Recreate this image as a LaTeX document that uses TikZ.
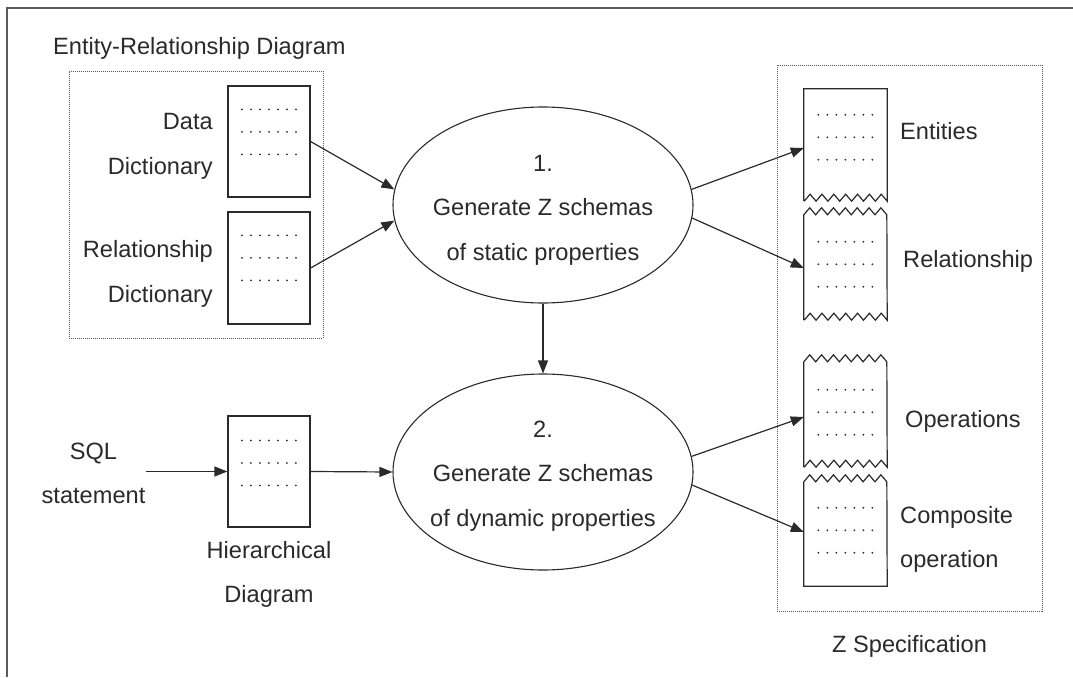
\documentclass[tikz,border=0pt]{standalone}
\usepackage{fontspec}
\setmainfont{Liberation Sans}
\usetikzlibrary{shapes.geometric,arrows.meta}
\definecolor{ink}{HTML}{2A2A2A}
\definecolor{rule}{HTML}{5A5A5A}

% three rows of seven dots inside a sheet, #2 = offset of the first row from the top
\newcommand\sheetdots[2]{%
  \foreach \r in {0,22.5,45}
    \foreach \c in {0,...,6}
      \fill[ink] ([shift={(14.5+9*\c,#2+\r)}]#1.north west) circle (1pt);}

\begin{document}
\begin{tikzpicture}[x=1pt,y=-1pt,
  lbl/.style={font=\fontsize{23.6}{44.5}\selectfont, text=ink, inner sep=0pt},
  sheet/.style={draw=ink, line width=1.2pt, minimum width=82pt, minimum height=111pt, inner sep=0pt},
  blank/.style={minimum width=83pt, inner sep=0pt},
  proc/.style={ellipse, draw=ink, line width=1.1pt, minimum width=300pt, minimum height=196pt, inner sep=0pt},
  flow/.style={draw=ink, line width=1.2pt, -{Triangle[length=13pt,width=10pt]}},
  group/.style={draw=rule, line width=0.9pt, dash pattern=on 1pt off 1pt, inner sep=0pt},
  outline/.style={draw=ink, line width=1.2pt, line join=miter}]

\useasboundingbox (0,0) rectangle (1073,677);

% page frame
\draw[rule, line width=1.4pt] (7,677) -- (7,8) -- (1073,8);

% ---------- entity-relationship group ----------
\node[group, minimum width=254pt, minimum height=267pt] (er) at (196,204.5) {};
\node[lbl, anchor=base west] (ertitle) at (53,55) {Entity-Relationship Diagram};

\node[sheet] (dd) at (269,141.5) {};
\node[sheet, minimum height=112pt] (rd) at (269,268) {};
\sheetdots{dd}{24}
\sheetdots{rd}{24}
\node[lbl, align=right, anchor=east] (ddl) at (213,146.5) {Data\\Dictionary};
\node[lbl, align=right, anchor=east] (rdl) at (213,274) {Relationship\\Dictionary};

% ---------- SQL input and hierarchical diagram ----------
\node[lbl, align=center] (sql) at (93.5,473.5) {SQL\\statement};
\node[sheet] (hd) at (269,471.5) {};
\sheetdots{hd}{25}
\node[lbl, align=center] (hdl) at (269,574.5) {Hierarchical\\Diagram};

% ---------- processes ----------
\node[proc] (e1) at (543,205) {};
\node[lbl, align=center] (e1t) at (543,210) {1.\\Generate Z schemas\\of static properties};
\node[proc] (e2) at (543,472) {};
\node[lbl, align=center] (e2t) at (543,476) {2.\\Generate Z schemas\\of dynamic properties};

% ---------- Z specification group ----------
\node[group, minimum width=265pt, minimum height=546pt] (zs) at (909.5,338) {};
\node[lbl, anchor=base west] (zsl) at (832,652) {Z Specification};

\node[blank, minimum height=112pt] (ent) at (845.5,145) {};
\node[blank, minimum height=112pt] (rel) at (845.5,264) {};
\node[blank, minimum height=112pt] (ops) at (845.5,411) {};
\node[blank, minimum height=111pt] (comp) at (845.5,530.5) {};

% torn sheets
\draw[outline] (ent.south west) -- (ent.north west) -- (ent.north east) -- (ent.south east)
  \foreach \i in {1,...,7} { -- ++(-5.93,-7) -- ++(-5.93,7) };
\draw[outline] (rel.south west) -- ([yshift=-7pt]rel.north west)
  \foreach \i in {1,...,7} { -- ++(5.93,-7) -- ++(5.93,7) } -- (rel.south east)
  \foreach \i in {1,...,7} { -- ++(-5.93,-7) -- ++(-5.93,7) };
\draw[outline] (ops.south west) -- ([yshift=-7pt]ops.north west)
  \foreach \i in {1,...,7} { -- ++(5.93,-7) -- ++(5.93,7) } -- (ops.south east)
  \foreach \i in {1,...,7} { -- ++(-5.93,-7) -- ++(-5.93,7) };
\draw[outline] (comp.south west) -- ([yshift=-7pt]comp.north west)
  \foreach \i in {1,...,7} { -- ++(5.93,-7) -- ++(5.93,7) } -- (comp.south east) -- cycle;

\sheetdots{ent}{26}
\sheetdots{rel}{34}
\sheetdots{ops}{35}
\sheetdots{comp}{33}

\node[lbl, anchor=base west] (entl) at (900,139) {Entities};
\node[lbl, anchor=base west] (rell) at (903,267) {Relationship};
\node[lbl, anchor=base west] (opsl) at (905,427) {Operations};
\node[lbl, align=left, anchor=west] (compl) at (900,539.5) {Composite\\operation};

% ---------- connectors ----------
\draw[flow] (dd.east) -- (e1.174);
\draw[flow] (rd.east) -- (e1.186);
\draw[flow] (e1.south) -- (e2.north);
\draw[flow] (sql.east |- hd.west) -- (hd.west);
\draw[flow] (hd.east) -- (e2.west);
\draw[flow] (e1.6) -- ([yshift=-3pt]ent.west);
\draw[flow] (e1.-5) -- ([yshift=-4pt]rel.west);
\draw[flow] (e2.6) -- ([yshift=-6pt]ops.west);
\draw[flow] (e2.-5) -- ([yshift=-1.5pt]comp.west);
\end{tikzpicture}
\end{document}
